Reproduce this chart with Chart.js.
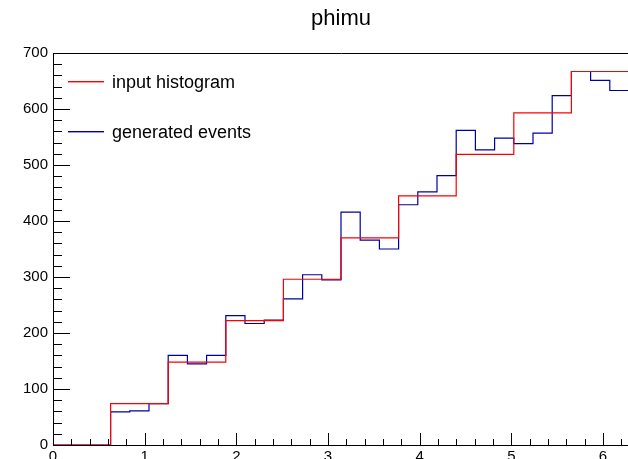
<!DOCTYPE html>
<html><head><meta charset="utf-8">
<script src="https://cdn.jsdelivr.net/npm/chart.js@4/dist/chart.umd.min.js"></script>
<style>html,body{margin:0;padding:0;background:#fff;overflow:hidden}
#wrap{width:628px;height:459px;overflow:hidden;position:relative;background:#fff}
canvas{display:block}</style></head>
<body><div id="wrap"><canvas id="c" width="640" height="459"></canvas></div>
<script>
const chartTitle = 'phimu';
const seriesNames = ['input histogram', 'generated events'];
const seriesColors = ['#ff0000', '#0000a0'];
const xRange = [0, 6.2832];
const inputHistogram = [0, 74, 148, 222, 296, 370, 445, 519, 593, 667];
const generatedEvents = [0, 0, 0, 59, 61, 74, 160, 145, 160, 231, 217, 223, 261, 304, 295, 416, 366, 350, 429, 452, 481, 562, 527, 548, 538, 557, 624, 667, 651, 633];
const xTickLabels = [0, 1, 2, 3, 4, 5, 6];
const yTickLabels = [0, 100, 200, 300, 400, 500, 600, 700];
const xMinorStep = 0.2, yMinorStep = 20;

function histPoints(vals) {
  const n = vals.length, w = (xRange[1] - xRange[0]) / n;
  const pts = vals.map((v, i) => ({x: xRange[0] + i * w, y: v}));
  pts.push({x: xRange[1], y: vals[n - 1]});
  return pts;
}

const FONT = "'Liberation Sans', Arial, Helvetica, sans-serif";

const rootFrame = {
  id: 'rootFrame',
  afterDatasetsDraw(chart) {
    const {ctx, chartArea: a, scales: {x, y}} = chart;
    ctx.save();
    ctx.strokeStyle = '#000';
    ctx.lineWidth = 1;
    ctx.beginPath();
    ctx.moveTo(a.left + 0.5, a.bottom + 0.5); ctx.lineTo(a.left + 0.5, a.top + 0.5);
    ctx.lineTo(a.right + 0.5, a.top + 0.5);
    ctx.moveTo(a.left, a.bottom + 0.5); ctx.lineTo(a.right, a.bottom + 0.5);
    const yMax = yTickLabels[yTickLabels.length - 1];
    for (let v = 0; v <= yMax + 1e-9; v += yMinorStep) {
      const py = Math.round(y.getPixelForValue(v)) + 0.5;
      const major = Math.abs(v / 100 - Math.round(v / 100)) < 1e-6;
      const len = major ? 17 : 9;
      ctx.moveTo(a.left, py); ctx.lineTo(a.left + len, py);
    }
    for (let k = 0; k * xMinorStep <= xRange[1] + 1e-9; k++) {
      const v = k * xMinorStep;
      const px = Math.round(x.getPixelForValue(v)) + 0.5;
      const major = k % 5 === 0;
      const len = major ? 12 : 6;
      ctx.moveTo(px, a.bottom); ctx.lineTo(px, a.bottom - len);
    }
    ctx.stroke();
    ctx.restore();
  },
  afterDraw(chart) {
    const {ctx} = chart;
    ctx.save();
    ctx.font = '18px ' + FONT;
    ctx.textBaseline = 'alphabetic';
    ctx.textAlign = 'left';
    chart.data.datasets.forEach((ds, i) => {
      const ly = 81 + i * 50;
      ctx.fillStyle = seriesColors[i];
      ctx.fillRect(68, ly, 36, 1.4);
      ctx.fillStyle = '#000';
      ctx.fillText(ds.label, 112, ly + 7);
    });
    ctx.restore();
  }
};

new Chart(document.getElementById('c'), {
  type: 'line',
  data: {
    datasets: [
      {label: seriesNames[0], data: histPoints(inputHistogram), borderColor: seriesColors[0], borderWidth: 1.2, stepped: true, pointRadius: 0, fill: false},
      {label: seriesNames[1], data: histPoints(generatedEvents), borderColor: seriesColors[1], borderWidth: 1.2, stepped: true, pointRadius: 0, fill: false}
    ]
  },
  options: {
    responsive: false,
    animation: false,
    events: [],
    layout: {padding: {right: 11, left: 0, top: 0, bottom: 0}},
    plugins: {
      legend: {display: false},
      tooltip: {enabled: false},
      title: {display: true, text: chartTitle, fullSize: false, color: '#000',
        font: {family: FONT, size: 22, weight: 'normal'}, padding: {top: 6, bottom: 20.6}}
    },
    scales: {
      x: {
        type: 'linear', min: xRange[0], max: xRange[1],
        grid: {display: false, drawTicks: false},
        border: {display: false},
        afterBuildTicks: s => { s.ticks = xTickLabels.map(v => ({value: v})); },
        afterFit: s => { s.height = 14; },
        ticks: {color: '#000', padding: 3, maxRotation: 0, autoSkip: false, font: {family: FONT, size: 15}}
      },
      y: {
        type: 'linear', min: 0, max: yTickLabels[yTickLabels.length - 1],
        grid: {display: false, drawTicks: false},
        border: {display: false},
        afterBuildTicks: s => { s.ticks = yTickLabels.map(v => ({value: v})); },
        afterFit: s => { s.width = 53; },
        ticks: {color: '#000', padding: 5, font: {family: FONT, size: 15}}
      }
    }
  },
  plugins: [rootFrame]
});
</script>
</body></html>
